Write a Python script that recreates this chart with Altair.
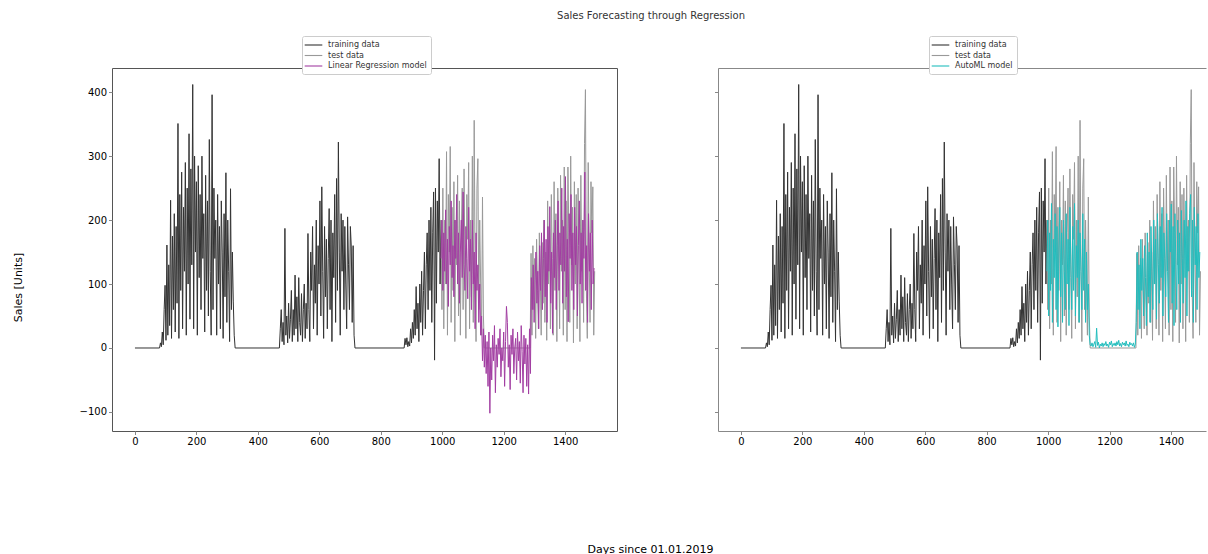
import altair as alt
import pandas as pd

STEP = 3  # days between sampled points

# ---- training data (black) ----
season1_start = 80
season1 = [0, 8, 2, 25, 5, 60, 98, 12, 161, 20,
           130, 35, 231, 15, 175, 60, 210, 25, 190, 70,
           351, 15, 240, 90, 275, 30, 220, 120, 290, 20,
           250, 100, 335, 45, 280, 130, 412, 30, 300, 150,
           260, 20, 285, 110, 240, 60, 300, 140, 210, 25,
           270, 90, 230, 50, 326, 120, 20, 396, 60, 250,
           140, 200, 20, 240, 100, 190, 30, 230, 150, 15,
           210, 80, 274, 40, 200, 120, 10, 249, 60, 150,
           72, 20, 0]
season2_start = 470
season2 = [0, 30, 60, 10, 40, 5, 187, 20, 50, 8,
           70, 15, 45, 90, 10, 60, 20, 114, 30, 80,
           10, 110, 40, 20, 85, 10, 60, 100, 15, 70,
           30, 179, 60, 10, 150, 90, 190, 30, 130, 70,
           200, 20, 160, 100, 230, 50, 252, 120, 15, 190,
           80, 170, 30, 140, 218, 60, 200, 10, 180, 110,
           240, 40, 265, 90, 322, 150, 20, 210, 120, 200,
           60, 190, 100, 30, 205, 130, 60, 190, 158, 40,
           160, 20, 0]
season3_start = 876
season3 = [0, 15, 5, 16, 2, 10, 3, 30, 8, 40,
           15, 60, 20, 96, 30, 70, 10, 100, 40, 120,
           20, 90, 150, 30, 130, 180, 60, 200, 90, 220,
           40, 180, 244, -19, 250, 70, 230, 150, 296, 100,
           200]

# ---- test data (gray) ----
test1_start = 996
test1 = [200, 60, 250, 30, 200, 100, 307, 20, 240, 150,
         315, 40, 220, 90, 260, 10, 200, 130, 270, 50,
         230, 20, 180, 250, 60, 280, 110, 15, 240, 170,
         290, 30, 200, 80, 300, 40, 356, 120, 10, 250,
         296, 60, 200, 100, 20, 236, 50, 0]
test2_start = 1286
test2 = [0, 148, 20, 160, 60, 140, 15, 170, 90, 30,
         180, 110, 20, 165, 70, 200, 40, 150, 12, 230,
         100, 190, 30, 240, 140, 20, 260, 90, 210, 10,
         250, 150, 30, 270, 120, 200, 20, 283, 60, 230,
         10, 283, 180, 40, 300, 130, 220, 8, 260, 100,
         240, 30, 250, 150, 10, 270, 120, 200, 40, 320,
         404, 90, 15, 290, 150, 40, 260, 180, 252, 20,
         120]

# ---- Linear Regression model (magenta) ----
lr_start = 996
lr_pred = [140, 200, 90, 180, 120, 216, 100, 170, 65, 190,
           130, 230, 110, 160, 80, 200, 140, 240, 100, 180,
           70, 150, 200, 110, 244, 130, 90, 190, 140, 77,
           220, 120, 170, 60, 200, 100, 150, 30, 180, 90,
           130, 40, 100, 20, 50, -20, 30, -30, 20, -40,
           10, -60, 25, -102, 0, -50, 20, -20, 35, -70,
           5, -30, 15, -10, 30, -45, 0, -20, 25, -60,
           10, 65, 40, -30, 5, -65, 20, -10, 30, -40,
           0, 15, -50, 25, -20, 10, -55, 35, -5, -70,
           20, -25, 15, -60, 5, -72, 30, -40, 110, 60,
           130, 40, 100, 150, 70, 120, 30, 160, 90, 180,
           60, 140, 200, 80, 170, 40, 190, 120, 221, 70,
           150, 23, 180, 110, 200, 60, 160, 230, 90, 180,
           130, 250, 70, 190, 120, 268, 80, 170, 41, 210,
           140, 240, 90, 180, 60, 220, 130, 190, 50, 160,
           230, 100, 180, 70, 200, 140, 275, 90, 160, 40,
           210, 120, 180, 60, 200, 100, 125]

# ---- AutoML model (cyan) ----
automl_start = 996
automl_pred = [120, 200, 50, 180, 90, 226, 40, 170, 110, 210,
               60, 190, 33, 150, 220, 80, 180, 40, 200, 120,
               60, 210, 100, 170, 35, 220, 130, 60, 190, 90,
               226, 50, 160, 110, 200, 40, 180, 120, 60, 210,
               90, 170, 40, 150, 60, 100, 20, 5,
               3, 8, 2, 6, 10, 1, 31, 4, 9, 0,
               6, 3, 8, 2, 7, 4, 10, 3, 6, 1,
               9, 5, 11, 2, 7, 4, 8, 3, 10, 5,
               12, 3, 7, 2, 9, 5, 8, 3, 11, 4,
               6, 2, 9, 5, 7, 3, 8, 1, 6,
               40,
               150, 60, 130, 30, 170, 90, 140, 50, 160, 110,
               35, 180, 80, 150, 40, 190, 120, 60, 200, 100,
               170, 45, 210, 130, 70, 190, 110, 220, 50, 180,
               140, 80, 210, 120, 40, 200, 150, 225, 70, 190,
               35, 210, 130, 60, 200, 100, 180, 40, 215, 140,
               70, 200, 110, 230, 50, 190, 120, 210, 240, 80,
               200, 40, 220, 130, 190, 60, 210, 110, 150]

x_ticks = [0, 200, 400, 600, 800, 1000, 1200, 1400]
y_ticks = [-100, 0, 100, 200, 300, 400]

TRAIN_COLOR = "#333333"
TEST_COLOR = "#999999"
LR_COLOR = "#a23ea2"
AUTOML_COLOR = "#22bdbd"
FRAME = "#555555"
TEXT = "#333333"
FONT = "DejaVu Sans"


def rows(start, values, series):
    return [{"day": start + STEP * i, "sales": v, "series": series}
            for i, v in enumerate(values)]


train_rows = ([{"day": 0, "sales": 0, "series": "training data"}]
              + rows(season1_start, season1, "training data")
              + rows(season2_start, season2, "training data")
              + rows(season3_start, season3, "training data"))
test_rows = rows(test1_start, test1, "test data") + rows(test2_start, test2, "test data")

df_left = pd.DataFrame(train_rows + test_rows + rows(lr_start, lr_pred, "Linear Regression model"))
df_right = pd.DataFrame(train_rows + test_rows + rows(automl_start, automl_pred, "AutoML model"))
df_frame = pd.DataFrame(train_rows)

Y_DOMAIN = [-129.8, 437.8]


def make_legend(x_off):
    return alt.Legend(
        title=None, orient="none", legendX=x_off, legendY=-32,
        symbolType="M-2.2,0H2.2", symbolSize=64, symbolStrokeWidth=1.1,
        symbolOffset=2.5, labelOffset=9.5,
        labelFont=FONT, labelFontSize=8, labelColor=TEXT,
        fillColor="white", strokeColor="#cccccc", padding=4,
        rowPadding=1.5, cornerRadius=2, zindex=5,
    )


def panel(df, model, model_color, width, x_max, left):
    domain = ["training data", "test data", model]
    cscale = alt.Scale(domain=domain, range=[TRAIN_COLOR, TEST_COLOR, model_color])
    legend = make_legend(190 if left else 211)
    xscale = alt.Scale(domain=[-74.7, x_max], nice=False, zero=False)
    yscale = alt.Scale(domain=Y_DOMAIN, nice=False, zero=False)

    if left:
        x_axis = alt.Axis(values=x_ticks, format="d", title="Days since 01.01.2019",
                          grid=False, domain=False, tickSize=3.5, labelPadding=2,
                          titleX=538, titleY=118, titleBaseline="middle",
                          titleAlign="center", titleFontWeight="normal")
        y_axis = alt.Axis(values=y_ticks, format="d", title="Sales [Units]", grid=False,
                          domain=False, tickSize=3.5, labelPadding=2,
                          titleX=-94, titleY=219, titleBaseline="middle",
                          titleAlign="center", titleAngle=270, titleFontWeight="normal")
    else:
        x_axis = alt.Axis(values=x_ticks, format="d", title=None, grid=False, domain=True,
                          tickSize=3.5, labelPadding=2)
        y_axis = alt.Axis(values=y_ticks, title=None, grid=False, domain=True,
                          tickSize=3.5, labels=False)

    lines = alt.Chart(df).mark_line(strokeWidth=1.0, clip=True).encode(
        x=alt.X("day:Q", scale=xscale, axis=x_axis),
        y=alt.Y("sales:Q", scale=yscale, axis=y_axis),
        color=alt.Color("series:N", scale=cscale, legend=legend, sort=domain),
    )

    if left:
        ch = lines.properties(width=width, height=363,
                              view=alt.ViewBackground(stroke=FRAME, strokeWidth=1))
    else:
        top_axis = alt.Axis(orient="top", title=None, grid=False, domain=True,
                            ticks=False, labels=False)
        frame = alt.Chart(df_frame).mark_line(opacity=0, clip=True).encode(
            x=alt.X("day:Q", scale=xscale, axis=top_axis),
            y=alt.Y("sales:Q", scale=yscale, axis=y_axis),
        )
        ch = alt.layer(lines, frame).resolve_axis(x="independent").properties(
            width=width, height=363, view=alt.ViewBackground(stroke="transparent"))
    return ch


left_chart = panel(df_left, "Linear Regression model", LR_COLOR, 505, 1568.7, True)
right_chart = panel(df_right, "AutoML model", AUTOML_COLOR, 488, 1514.1, False)

chart = alt.hconcat(left_chart, right_chart, spacing=101, bounds="flush").resolve_scale(
    color="independent"
).properties(
    title=alt.TitleParams("Sales Forecasting through Regression", font=FONT, fontSize=10,
                          fontWeight="normal", color=TEXT, anchor="middle", dx=42,
                          offset=14),
    padding={"left": 11, "top": 11, "right": 0, "bottom": 0},
).configure_view(
    stroke=FRAME, strokeWidth=1
).configure_axis(
    labelFont=FONT, labelFontSize=7.5, labelColor=TEXT,
    titleFont=FONT, titleFontSize=7.5, titleColor=TEXT, titleFontWeight="normal",
    tickColor=FRAME, domainColor=FRAME, domainWidth=1,
).configure(font=FONT)

chart.save("out.html", embed_options={"renderer": "svg", "actions": False})
